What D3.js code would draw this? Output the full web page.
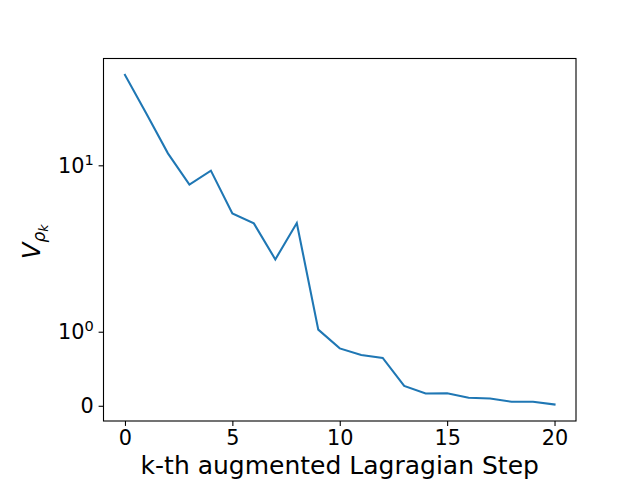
<!DOCTYPE html>
<html>
<head>
<meta charset="utf-8">
<script src="https://cdn.jsdelivr.net/npm/d3@7"></script>
<style>
  body { margin: 0; background: #fff; }
  text { font-family: "DejaVu Sans", sans-serif; fill: #000; }
</style>
</head>
<body>
<div id="chart"></div>
<script>
  // data
  var steps = d3.range(0, 21);
  var values = [34.9, 20.4, 11.8, 7.66, 9.29, 5.14, 4.48, 2.72, 4.5, 1.03,
                0.775, 0.686, 0.646, 0.269, 0.166, 0.170, 0.108, 0.098, 0.054, 0.054, 0.017];
  var yTicks = [0, 1, 10];

  var W = 640, H = 480;
  var margin = {top: 58.5, right: 64, bottom: 59, left: 103.5},
      width = W - margin.left - margin.right,
      height = H - margin.top - margin.bottom;

  // symlog transform (linear below 1, log above)
  var linA = 0.445;
  function symlog(v) {
    var a = Math.abs(v);
    var t = a <= 1 ? a * linA : linA + Math.log10(a);
    return v < 0 ? -t : t;
  }

  var svg = d3.select("#chart").append("svg")
      .attr("width", W)
      .attr("height", H)
    .append("g")
      .attr("transform", "translate(" + margin.left + "," + margin.top + ")");

  var x = d3.scaleLinear().domain([-1, 21]).range([0, width]);

  var tExt = d3.extent(values.map(symlog));
  var pad = (tExt[1] - tExt[0]) * 0.05;
  var y = d3.scaleLinear().domain([tExt[0] - pad, tExt[1] + pad]).range([height, 0]);

  // line
  var line = d3.line()
      .x(function(d, i) { return x(steps[i]); })
      .y(function(d) { return y(symlog(d)); });

  svg.append("path")
      .datum(values)
      .attr("fill", "none")
      .attr("stroke", "#1f77b4")
      .attr("stroke-width", 2.08)
      .attr("stroke-linecap", "square")
      .attr("d", line);

  // x axis
  var xAxis = svg.append("g")
      .attr("transform", "translate(0," + height + ")")
      .call(d3.axisBottom(x).tickValues([0, 5, 10, 15, 20]).tickSize(4.9).tickPadding(4.5));
  xAxis.select(".domain").remove();
  xAxis.selectAll("line").attr("stroke", "#000").attr("stroke-width", 1.1);
  xAxis.selectAll("text").style("font-size", "20.8px").style("font-family", "DejaVu Sans");

  // y axis with mathtext-style labels
  var yAxis = svg.append("g")
      .call(d3.axisLeft(y).tickValues(yTicks.map(symlog)).tickSize(4.9).tickFormat(""));
  yAxis.select(".domain").remove();
  yAxis.selectAll("line").attr("stroke", "#000").attr("stroke-width", 1.1);

  yTicks.forEach(function(v) {
    var t = svg.append("text")
        .attr("x", -9.8)
        .attr("y", y(symlog(v)) + 7.6)
        .attr("text-anchor", "end")
        .style("font-size", "20.8px");
    if (v === 0) {
      t.text("0");
    } else {
      t.append("tspan").text("10");
      t.append("tspan")
          .attr("dy", -8)
          .style("font-size", "14.6px")
          .text(Math.round(Math.log10(v)));
    }
  });

  // frame
  svg.append("rect")
      .attr("width", width)
      .attr("height", height)
      .attr("fill", "none")
      .attr("stroke", "#000")
      .attr("stroke-width", 1.1);

  // axis labels
  svg.append("text")
      .attr("x", width / 2)
      .attr("y", H - margin.top - 6)
      .attr("text-anchor", "middle")
      .style("font-size", "25px")
      .text("k-th augmented Lagragian Step");

  var yl = svg.append("text")
      .attr("transform", "translate(" + (-margin.left + 40) + "," + (height / 2 + 2) + ") rotate(-90)")
      .attr("text-anchor", "middle")
      .style("font-size", "24px");
  yl.append("tspan").style("font-style", "italic").text("V");
  yl.append("tspan").attr("dy", 5).style("font-size", "17px").style("font-style", "italic").text("ρ");
  yl.append("tspan").attr("dy", 3).style("font-size", "12.5px").style("font-style", "italic").text("k");
</script>
</body>
</html>
